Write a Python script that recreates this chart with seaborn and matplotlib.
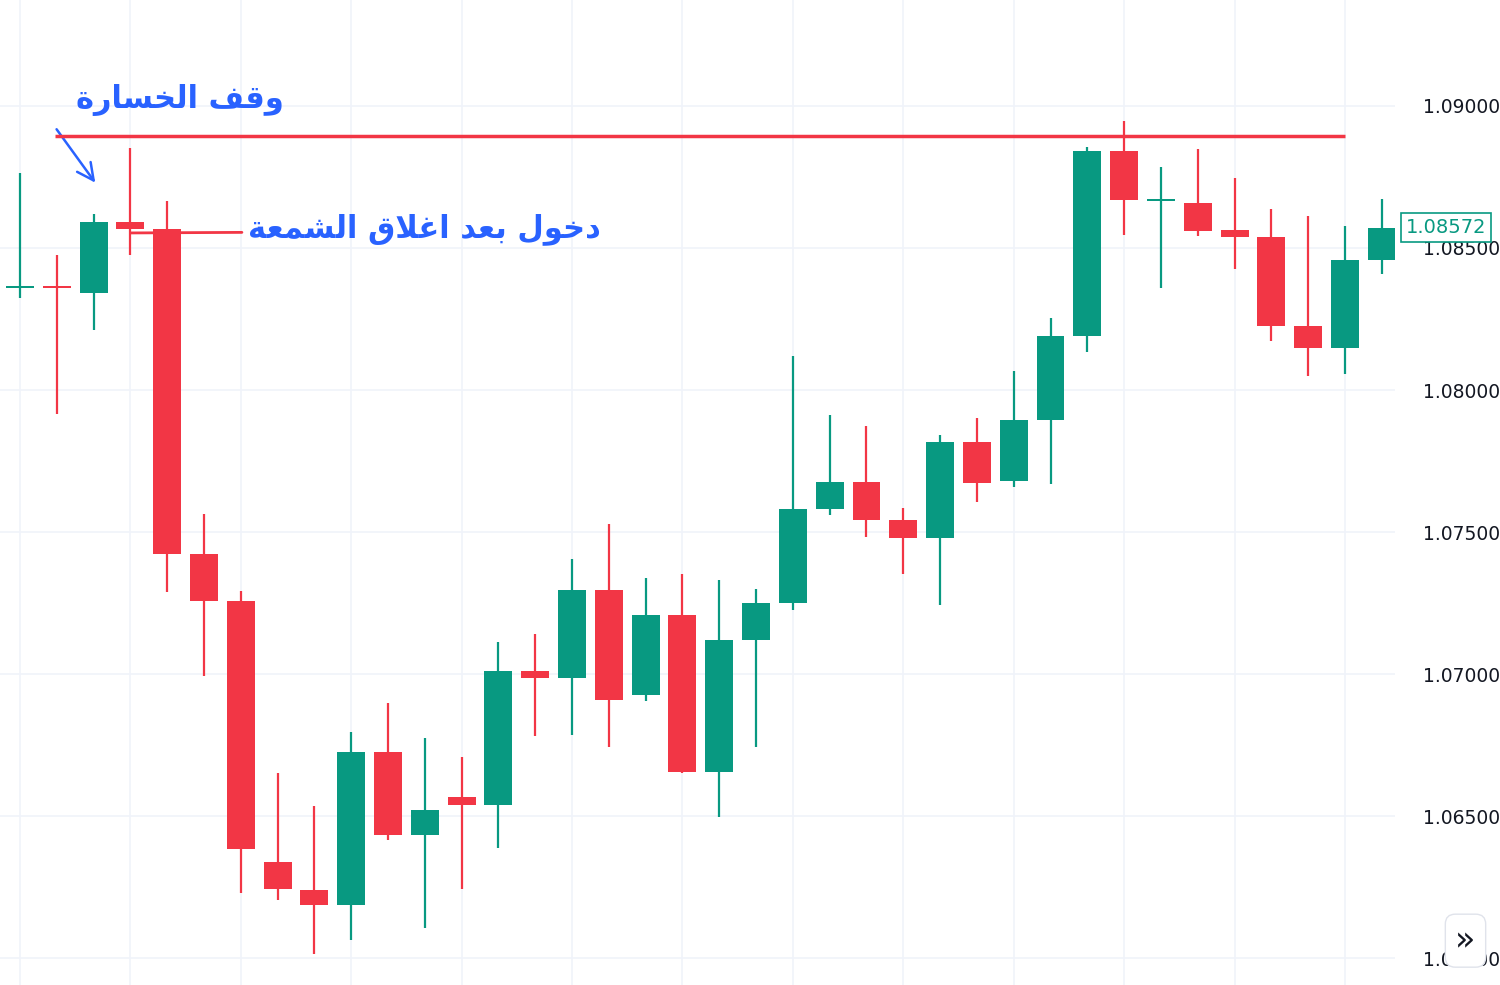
import numpy as np
import matplotlib.pyplot as plt
import matplotlib.transforms as mtransforms
import seaborn as sns

# OHLC (EUR/USD style prices)
opens = [1.08363, 1.08363, 1.08342, 1.08592, 1.08567, 1.07423, 1.07257, 1.06338, 1.06239, 1.06187,
         1.06725, 1.06433, 1.06567, 1.06539, 1.07011, 1.06986, 1.07296, 1.06926, 1.07208, 1.06655,
         1.07120, 1.07250, 1.07581, 1.07676, 1.07542, 1.07479, 1.07817, 1.07680, 1.07894, 1.08190,
         1.08842, 1.08669, 1.08658, 1.08563, 1.08539, 1.08225, 1.08148, 1.08458]
highs = [1.08764, 1.08475, 1.08620, 1.08852, 1.08665, 1.07563, 1.07292, 1.06651, 1.06535, 1.06796,
         1.06898, 1.06775, 1.06708, 1.07113, 1.07141, 1.07405, 1.07528, 1.07338, 1.07352, 1.07331,
         1.07299, 1.08120, 1.07912, 1.07873, 1.07585, 1.07842, 1.07901, 1.08067, 1.08254, 1.08856,
         1.08947, 1.08785, 1.08849, 1.08746, 1.08637, 1.08613, 1.08577, 1.08673]
lows = [1.08324, 1.07915, 1.08211, 1.08475, 1.07289, 1.06993, 1.06229, 1.06204, 1.06014, 1.06063,
        1.06415, 1.06106, 1.06243, 1.06387, 1.06782, 1.06785, 1.06743, 1.06905, 1.06651, 1.06496,
        1.06743, 1.07225, 1.07560, 1.07482, 1.07352, 1.07243, 1.07606, 1.07658, 1.07669, 1.08134,
        1.08546, 1.08359, 1.08542, 1.08426, 1.08173, 1.08049, 1.08056, 1.08408]
closes = [1.08363, 1.08362, 1.08592, 1.08567, 1.07423, 1.07257, 1.06384, 1.06243, 1.06187, 1.06725,
          1.06433, 1.06521, 1.06539, 1.07011, 1.06986, 1.07296, 1.06908, 1.07208, 1.06655, 1.07120,
          1.07250, 1.07581, 1.07676, 1.07542, 1.07479, 1.07817, 1.07673, 1.07894, 1.08190, 1.08842,
          1.08669, 1.08669, 1.08560, 1.08539, 1.08225, 1.08148, 1.08458, 1.08570]
y_ticks = [1.065, 1.07, 1.075, 1.08, 1.085, 1.09, 1.06]
stop_level = 1.08894
entry_level = 1.08553
last_price = 1.08572
stop_text = "وقف الخسارة"
entry_text = "دخول بعد اغلاق الشمعة"

GREEN = "#089981"
RED = "#f23645"
BLUE = "#2962ff"

# minimal arabic shaping (matplotlib has no shaping / bidi)
FORMS = {
    "ا": (0xFE8D, 0xFE8E), "ب": (0xFE8F, 0xFE90, 0xFE91, 0xFE92), "ة": (0xFE93, 0xFE94),
    "خ": (0xFEA5, 0xFEA6, 0xFEA7, 0xFEA8), "د": (0xFEA9, 0xFEAA), "ر": (0xFEAD, 0xFEAE),
    "س": (0xFEB1, 0xFEB2, 0xFEB3, 0xFEB4), "ش": (0xFEB5, 0xFEB6, 0xFEB7, 0xFEB8),
    "ع": (0xFEC9, 0xFECA, 0xFECB, 0xFECC), "غ": (0xFECD, 0xFECE, 0xFECF, 0xFED0),
    "ف": (0xFED1, 0xFED2, 0xFED3, 0xFED4), "ق": (0xFED5, 0xFED6, 0xFED7, 0xFED8),
    "ل": (0xFEDD, 0xFEDE, 0xFEDF, 0xFEE0), "م": (0xFEE1, 0xFEE2, 0xFEE3, 0xFEE4),
    "و": (0xFEED, 0xFEEE), "\uE000": (0xFEFB, 0xFEFC),
}


def shape(text):
    s = text.replace("لا", "\uE000")
    out = []
    for i, ch in enumerate(s):
        if ch not in FORMS:
            out.append(ch)
            continue
        f = FORMS[ch]
        prev = s[i - 1] if i > 0 else ""
        nxt = s[i + 1] if i + 1 < len(s) else ""
        jp = prev in FORMS and len(FORMS[prev]) == 4
        jn = len(f) == 4 and nxt in FORMS
        if jp and jn:
            code = f[3]
        elif jp:
            code = f[1]
        elif jn:
            code = f[2]
        else:
            code = f[0]
        out.append(chr(code))
    return "".join(out)[::-1]


sns.set_style("white")
plt.rcParams["font.family"] = ["DejaVu Sans"]

fig = plt.figure(figsize=(15, 9.85), dpi=100)
ax = fig.add_axes([0, 0, 1395 / 1500, 1])

x = np.arange(len(opens))
o, h, l, c = map(np.array, (opens, highs, lows, closes))
colors = [GREEN if cc >= oo else RED for oo, cc in zip(o, c)]
ax.vlines(x, l, h, colors=colors, linewidth=1.6, zorder=3)
body_lo = np.minimum(o, c)
body_h = np.maximum(np.abs(c - o), 0.00006)
ax.bar(x, body_h, bottom=body_lo - np.where(np.abs(c - o) < 0.00006, 0.00003, 0), width=0.76,
       color=colors, zorder=4, linewidth=0)

ax.set_xlim(-0.543, 37.36)
ax.set_ylim(1.05905, 1.093732)
ax.set_xticks(np.arange(0, 38, 3))
ax.set_xticklabels([])
ax.set_yticks(y_ticks)
ax.set_yticklabels([f"{t:.5f}" for t in y_ticks])
ax.yaxis.tick_right()
ax.tick_params(axis="y", length=0, labelsize=13.5, labelcolor="#131722", pad=20)
ax.tick_params(axis="x", length=0)
ax.grid(True, color="#f0f3fa", linewidth=1.2)
for sp in ax.spines.values():
    sp.set_visible(False)

ax.hlines(stop_level, 0.95, 36.0, color=RED, linewidth=2.5, zorder=5)
ax.plot([3.0, 6.03], [entry_level, entry_level + 0.00002], color=RED, linewidth=2, zorder=5)

ax.annotate("", xy=(2.09, 1.08722), xytext=(0.95, 1.08926),
            arrowprops=dict(arrowstyle="->", color=BLUE, lw=1.8, mutation_scale=30))
ax.text(4.35, 1.09021, shape(stop_text), color=BLUE, fontsize=22, fontweight="bold",
        ha="center", va="center")
ax.text(11.0, 1.08567, shape(entry_text), color=BLUE, fontsize=22, fontweight="bold",
        ha="center", va="center")

trans = mtransforms.blended_transform_factory(ax.transAxes, ax.transData)
ax.text(1.0075, last_price, f"{last_price:.5f}", transform=trans, color=GREEN, fontsize=14,
        va="center", ha="left", zorder=10, clip_on=False,
        bbox=dict(boxstyle="square,pad=0.25", fc="white", ec=GREEN, lw=1.2))

fig.text(0.977, 0.045, "»", fontsize=24, ha="center", va="center", color="#131722",
         bbox=dict(boxstyle="round,pad=0.3", fc="white", ec="#e0e3eb"))

fig.savefig("out.png", dpi=100)
